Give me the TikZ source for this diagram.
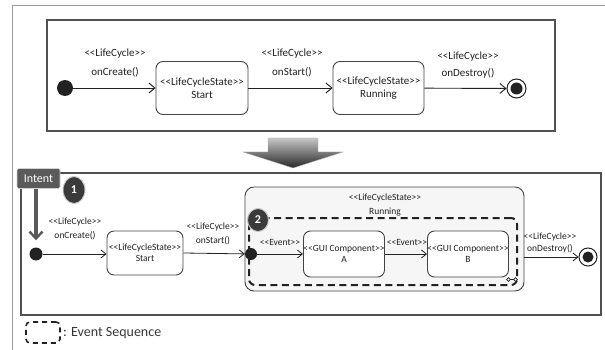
\documentclass[tikz,border=0pt]{standalone}
\usepackage{fontspec}
\setmainfont{Carlito}
\usetikzlibrary{arrows.meta,calc,shapes.geometric}
\definecolor{ink}{HTML}{222222}
\definecolor{framec}{HTML}{9C9C9C}
\definecolor{boxline}{HTML}{505050}
\definecolor{stateline}{HTML}{444444}
\definecolor{badgec}{HTML}{3A3A3A}
\definecolor{tagc}{HTML}{5A5A5A}
% stereotype brackets, kept as separate characters
\newcommand\sto{<\kern0pt<}
\newcommand\stc{>\kern0pt>}
\begin{document}
\begin{tikzpicture}[x=1pt,y=-1pt,
  big/.style={font=\fontsize{11}{13}\selectfont, text=ink},
  small/.style={font=\fontsize{9.5}{11}\selectfont, text=ink},
  statebox/.style={draw=stateline, line width=0.9pt, rounded corners=7pt,
    fill=white, align=center, inner sep=0pt},
  initdot/.style={circle, fill=ink, inner sep=0pt, minimum size=#1},
  finalring/.style={circle, draw=ink, line width=1pt, fill=white, inner sep=0pt, minimum size=#1},
  conn/.style={draw=ink, line width=0.9pt, -{Straight Barb[length=6pt,width=10pt,line width=0.9pt]}},
  sconn/.style={draw=ink, line width=0.8pt, -{Straight Barb[length=5pt,width=8pt,line width=0.8pt]}},
  badge/.style={ellipse, fill=badgec, draw=gray!45, line width=1pt, text=white,
    font=\fontsize{12}{12}\selectfont\bfseries, inner sep=0pt},
  evseq/.style={draw=ink, line width=2pt, dash pattern=on 7pt off 4.5pt, rounded corners=6pt, inner sep=0pt},
]
\useasboundingbox (0,0) rectangle (605,350);
\fill[white] (0,0) rectangle (605,350);

% page frame
\draw[framec, line width=1pt] (12,350) -- (12,6) -- (605,6);

% ---------------- upper life cycle ----------------
\draw[boxline, line width=1.6pt] (47,20) rectangle (555,131);

\node[initdot=16pt] (i1) at (65,88) {};
\node[statebox, big, minimum width=92pt, minimum height=53pt] (s1) at (202,88)
  {\sto LifeCycleState\stc\\Start};
\node[statebox, big, minimum width=91pt, minimum height=53pt] (r1) at (378.5,88)
  {\sto LifeCycleState\stc\\Running};
\node[finalring=19pt] (f1) at (516.5,88.5) {};
\fill[ink] (f1) circle (6);

\draw[conn] (i1) -- (s1);
\draw[conn] (s1) -- (r1);
\draw[conn] (r1) -- (f1);

\node[big, align=center, font=\fontsize{11}{18.5}\selectfont] (l1) at (115,63) {\sto LifeCycle\stc\\onCreate()};
\node[big, align=center, font=\fontsize{11}{18.5}\selectfont] (l2) at (292,63) {\sto LifeCycle\stc\\onStart()};
\node[big, align=center, font=\fontsize{11}{17}\selectfont] (l3) at (468,65) {\sto LifeCycle\stc\\onDestroy()};

% transformation arrow
\shade[top color=gray!45, bottom color=black!85, draw=gray!60, line width=0.4pt]
  (268,138) -- (318,138) -- (318,152) -- (343,152) -- (293,168) -- (243,152) -- (268,152) -- cycle;

% ---------------- lower life cycle ----------------
\draw[boxline, line width=1.6pt] (21,173) rectangle (601,315);

\node[initdot=13pt] (i2) at (36,254) {};
\node[statebox, small, minimum width=76pt, minimum height=44pt] (s2) at (145,253)
  {\sto LifeCycleState\stc\\Start};

% composite state Running
\node[draw=stateline, line width=0.9pt, rounded corners=9pt, fill=gray!7,
  minimum width=279pt, minimum height=104pt, inner sep=0pt] (run) at (384.5,239) {};
\node[small, align=center, font=\fontsize{9.5}{14}\selectfont] (runlbl) at (385,205)
  {\sto LifeCycleState\stc\\Running};

\node[evseq, minimum width=268pt, minimum height=67pt] (seq) at (383,251.5) {};

\node[statebox, small, minimum width=80pt, minimum height=46pt] (ga) at (344,254)
  {\sto GUI Component\stc\\A};
\node[statebox, small, minimum width=80pt, minimum height=46pt] (gb) at (468,254)
  {\sto GUI Component\stc\\B};
\node[initdot=12pt] (i3) at (251,254) {};

% decomposition mark of the composite state
\coordinate (ic) at (512,279.5);
\draw[ink, line width=0.7pt, fill=white] ($(ic)+(-3.5,0)$) circle (1.8);
\draw[ink, line width=0.7pt] ($(ic)+(-1.7,0)$) -- ($(ic)+(1.7,0)$);
\draw[ink, line width=0.7pt, fill=white] ($(ic)+(3.5,0)$) circle (1.8);

\node[finalring=18pt] (f2) at (588,257) {};
\fill[ink] (f2) circle (5.5);

\draw[sconn] (i2) -- (i2 -| s2.west);
\draw[sconn] (s2.east) -- (i3);
\draw[sconn] (i3) -- (i3 -| ga.west);
\draw[sconn] (ga) -- (gb);
\draw[sconn] (run.east |- f2) -- (f2);

\node[small, align=center, font=\fontsize{9.5}{14}\selectfont] (m1) at (75,229) {\sto LifeCycle\stc\\onCreate()};
\node[small, align=center, font=\fontsize{9.5}{14}\selectfont] (m2) at (213,234) {\sto LifeCycle\stc\\onStart()};
\node[small] (e1) at (280,242) {\sto Event\stc};
\node[small] (e2) at (407,242) {\sto Event\stc};
\node[small, align=center, font=\fontsize{9.5}{12}\selectfont] (m3) at (550,243) {\sto LifeCycle\stc\\onDestroy()};

% Intent tag and its arrow
\node[fill=tagc, draw=gray!35, line width=0.6pt, rounded corners=1.5pt, text=white,
  font=\fontsize{12}{12}\selectfont, minimum width=43pt, minimum height=20pt, inner sep=0pt]
  (tag) at (38.5,178.5) {Intent};
\draw[tagc, line width=3.2pt, -{Straight Barb[length=7pt,width=13pt,line width=2.4pt]},
  shorten >=7pt] (tag.south -| i2) -- (i2.north);

\node[badge, minimum width=22pt, minimum height=27pt] (b1) at (74,190) {1};
\node[badge, minimum width=21pt, minimum height=23pt] (b2) at (258,220) {2};

% legend
\node[draw=ink, line width=1.6pt, dash pattern=on 5pt off 4pt, rounded corners=4pt,
  minimum width=34pt, minimum height=21pt, inner sep=0pt] (leg) at (43,332.5) {};
\node[anchor=west, font=\fontsize{14}{16}\selectfont, text=ink!90, inner sep=0pt] (legtxt) at (63,333) {: Event Sequence};
\end{tikzpicture}
\end{document}
